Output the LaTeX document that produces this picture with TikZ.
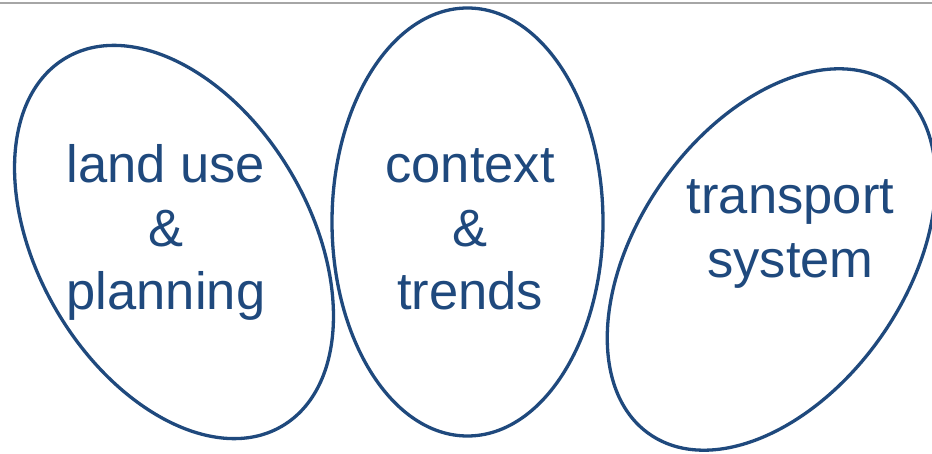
\documentclass[tikz,border=0pt]{standalone}
\usepackage{fontspec}
\setmainfont{Liberation Sans}
\definecolor{ellblue}{RGB}{31,73,125}
\definecolor{rulegray}{RGB}{166,166,166}
\begin{document}
\begin{tikzpicture}[x=1pt,y=1pt,
  bubble/.style={draw=ellblue,line width=3.3pt},
  label/.style={text=ellblue,align=center,inner sep=0pt,anchor=base,
    font=\fontsize{52.5}{63.5}\selectfont}]
\useasboundingbox (0,0) rectangle (932,453);
\clip (0,0) rectangle (932,453);
\draw[rulegray,line width=1.5pt] (0,450) -- (932,450);
\draw[bubble,rotate around={30.4:(174,211)}] (174,211) ellipse [x radius=136,y radius=213.5];
\draw[bubble] (467.5,231) ellipse [x radius=135.5,y radius=214];
\draw[bubble,rotate around={-35:(771.5,193.5)}] (771.5,193.5) ellipse [x radius=134,y radius=213];
\node[label] (landuse) at (166,143) {land use\\\&\\planning};
\node[label] (context) at (470,143) {context\\\&\\trends};
\node[label] (transport) at (790.5,175.5) {transport\\system};
\end{tikzpicture}
\end{document}
